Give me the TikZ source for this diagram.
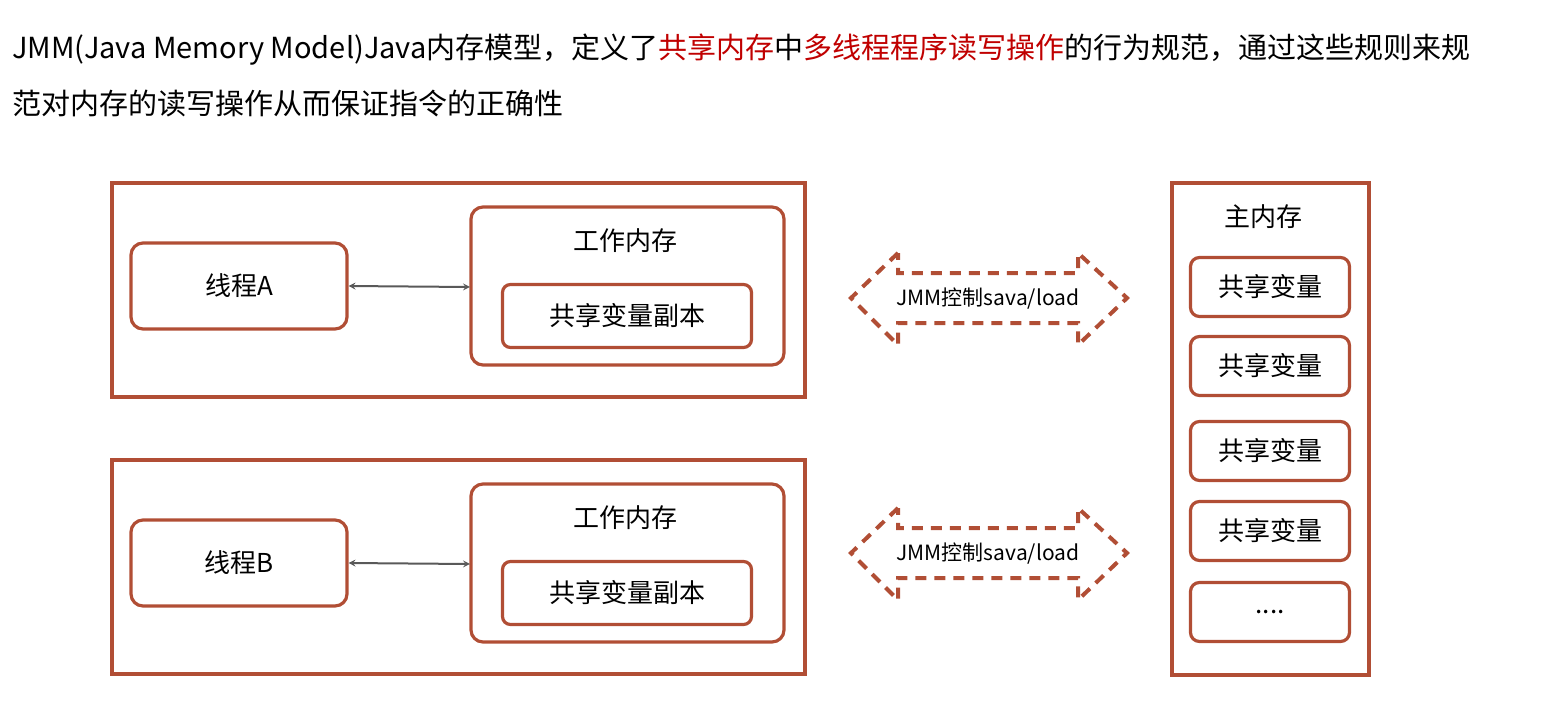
\documentclass[tikz,border=0pt]{standalone}
\usepackage{fontspec}
\setmainfont{Noto Sans CJK SC}
\begin{document}
\begin{tikzpicture}[x=1pt,y=-1pt,
  brd/.style={draw=boxc,line width=3.2pt},
  rbox/.style={brd,rounded corners=12pt},
  lbl/.style={font=\fontsize{26}{30}\selectfont},
  dbl/.style={draw=boxc,line width=4pt,dash pattern=on 11pt off 8pt}]
\definecolor{boxc}{HTML}{B14E35}
\definecolor{titr}{HTML}{C00000}
\useasboundingbox (0,0) rectangle (1553,705);
\node[anchor=west,inner sep=0,font=\fontsize{29}{33}\selectfont] (t1) at (12,50) {JMM(Java Memory Model)Java内存模型，定义了\textcolor{titr}{共享内存}中\textcolor{titr}{多线程程序读写操作}的行为规范，通过这些规则来规};
\node[anchor=west,inner sep=0,font=\fontsize{29}{33}\selectfont] (t2) at (12,103) {范对内存的读写操作从而保证指令的正确性};
\foreach \n/\dy/\ay/\th in {A/0/0/A,B/277/255/B}{
  \draw[brd] (112,183+\dy) rectangle (805,397+\dy);
  \node[rbox,minimum width=216pt,minimum height=86pt,lbl] (th\n) at (239,286+\dy) {线程\th};
  \draw[rbox] (471,207+\dy) rectangle (784,365+\dy);
  \node[lbl] (wm\n) at (625,241+\dy) {工作内存};
  \node[rbox,rounded corners=8pt,minimum width=249pt,minimum height=63pt,lbl] (cp\n) at (627,316+\dy) {共享变量副本};
  \coordinate (wl\n) at (470,287+\dy);
  \draw[<->,>=stealth,gray!70!black,line width=2pt] (th\n.east) -- (wl\n);
  \draw[dbl] (898,253+\ay) -- (851,298+\ay) -- (898,345+\ay) -- (898,323+\ay) -- (1078,323+\ay) -- (1078,345+\ay) -- (1127,298+\ay) -- (1078,253+\ay) -- (1078,273+\ay) -- (898,273+\ay) -- cycle;
  \node[font=\fontsize{21}{25}\selectfont] (jm\n) at (988,299+\ay) {JMM控制sava/load};
}
\draw[brd] (1172,183) rectangle (1369,675);
\node[lbl] (mm) at (1263,217) {主内存};
\foreach \i/\y in {1/287,2/366,3/451,4/531}{
  \node[rbox,rounded corners=9pt,minimum width=159pt,minimum height=59pt,lbl] (v\i) at (1270,\y) {共享变量};
}
\node[rbox,rounded corners=9pt,minimum width=159pt,minimum height=59pt,lbl] (v5) at (1270,612) {....};
\end{tikzpicture}
\end{document}
